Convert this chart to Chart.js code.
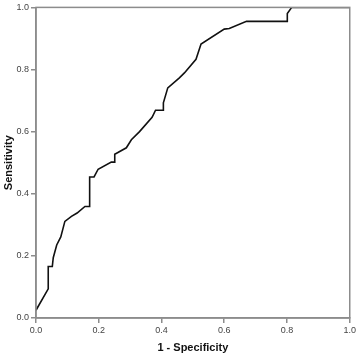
<!DOCTYPE html>
<html>
<head>
<meta charset="utf-8">
<script src="https://cdn.jsdelivr.net/npm/chart.js@4.4.1/dist/chart.umd.min.js"></script>
<style>
  html, body { margin: 0; padding: 0; background: #fff; }
  #wrap { width: 358px; height: 355px; }
</style>
</head>
<body>
<div id="wrap"><canvas id="roc"></canvas></div>
<script>
// ROC curve
const fpr = [0.000, 0.039, 0.039, 0.052, 0.055, 0.066, 0.079, 0.092, 0.113, 0.131, 0.156, 0.171, 0.171,
             0.185, 0.198, 0.240, 0.251, 0.251, 0.288, 0.304, 0.330, 0.370, 0.381, 0.406, 0.406, 0.420,
             0.457, 0.473, 0.510, 0.526, 0.600, 0.616, 0.671, 0.801, 0.801, 0.815, 1.000];
const tpr = [0.025, 0.094, 0.166, 0.166, 0.194, 0.235, 0.261, 0.311, 0.327, 0.338, 0.359, 0.359, 0.454,
             0.454, 0.479, 0.502, 0.502, 0.527, 0.548, 0.574, 0.600, 0.646, 0.669, 0.669, 0.693, 0.741,
             0.773, 0.789, 0.833, 0.882, 0.930, 0.932, 0.955, 0.955, 0.980, 1.000, 1.000];
const tickVals = [0, 0.2, 0.4, 0.6, 0.8, 1.0];

const axisGrey = '#8c8c8c';

// grey box round the plot
const frame = {
    id: 'frame',
    afterDraw(chart) {
        const a = chart.chartArea;
        const c = chart.ctx;
        c.save();
        c.strokeStyle = axisGrey;
        c.lineWidth = 1.5;
        c.strokeRect(a.left, a.top, a.right - a.left, a.bottom - a.top);
        c.restore();
    }
};

function axis(title, size, titlePad) {
    return {
        type: 'linear',
        min: 0,
        max: 1,
        afterBuildTicks: s => { s.ticks = tickVals.map(v => ({ value: v })); },
        afterFit: s => { if (s.isHorizontal()) s.height = size; else s.width = size; },
        ticks: {
            callback: v => v.toFixed(1),
            color: '#444',
            font: { family: 'Arial, "Liberation Sans"', size: 9 },
            padding: 2,
            maxRotation: 0
        },
        grid: { drawOnChartArea: false, tickLength: 5, color: axisGrey, lineWidth: 1.5 },
        border: { color: axisGrey, width: 1.5 },
        title: {
            display: true,
            text: title,
            color: '#111',
            font: { family: 'Arial, "Liberation Sans"', size: 11, weight: 'bold' },
            padding: { top: titlePad, bottom: 0 }
        }
    };
}

new Chart(document.getElementById('roc'), {
    type: 'scatter',
    data: {
        datasets: [{
            data: fpr.map((x, i) => ({ x: x, y: tpr[i] })),
            showLine: true,
            borderColor: '#111',
            borderWidth: 1.6,
            pointRadius: 0,
            tension: 0
        }]
    },
    options: {
        responsive: true,
        maintainAspectRatio: false,
        animation: false,
        layout: { padding: { top: 4, right: 7, left: 0, bottom: 0 } },
        scales: {
            x: axis('1 - Specificity', 37, 6),
            y: axis('Sensitivity', 36, 2)
        },
        plugins: { legend: { display: false }, tooltip: { enabled: false } }
    },
    plugins: [frame]
});
</script>
</body>
</html>
